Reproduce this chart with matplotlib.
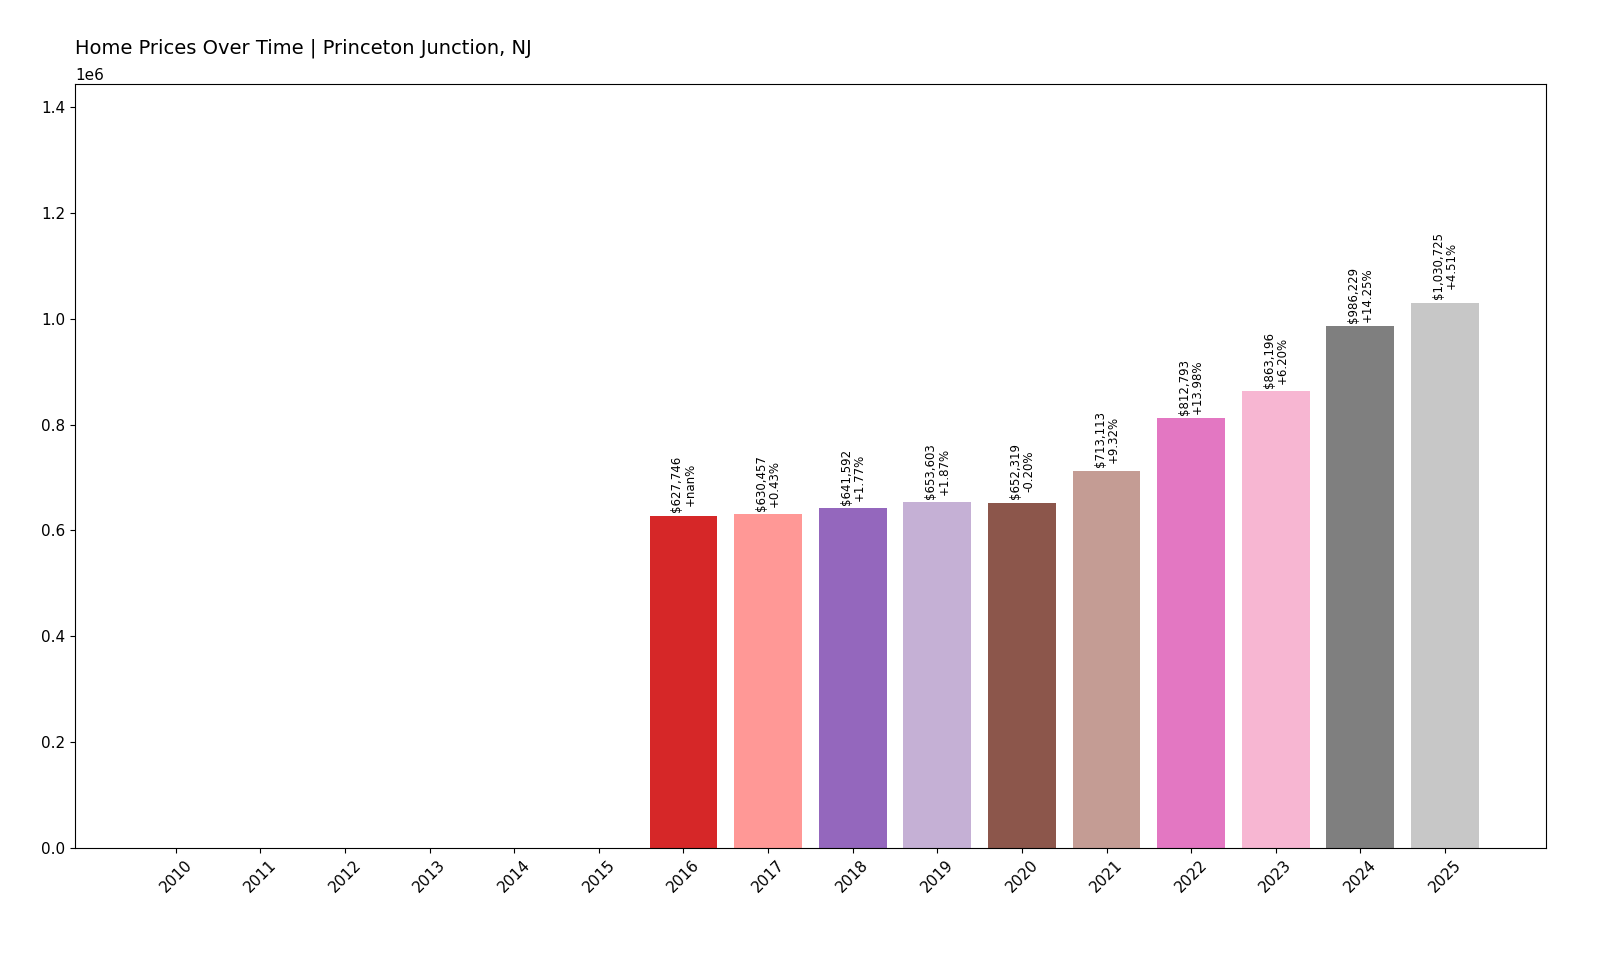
import numpy as np
import matplotlib
matplotlib.use("Agg")
import matplotlib.pyplot as plt

# Datos
years = [2010, 2011, 2012, 2013, 2014, 2015, 2016, 2017, 2018, 2019,
         2020, 2021, 2022, 2023, 2024, 2025]
prices = [0, 0, 0, 0, 0, 0,
          627746, 630457, 641592, 653603, 652319, 713113,
          812793, 863196, 986229, 1030725]
changes = [np.nan, np.nan, np.nan, np.nan, np.nan, np.nan,
           np.nan, 0.43, 1.77, 1.87, -0.20, 9.32,
           13.98, 6.20, 14.25, 4.51]

colors = [plt.cm.tab20(i) for i in range(len(years))]

fig, ax = plt.subplots(figsize=(16, 9.6), dpi=100)
x = np.arange(len(years))
ax.bar(x, prices, color=colors)

for xi, p, c in zip(x, prices, changes):
    if p <= 0:
        continue
    pct = "+nan%" if np.isnan(c) else f"{c:+.2f}%"
    ax.text(xi, p + 6000, f"${p:,.0f}\n{pct}", rotation=90,
            ha="center", va="bottom", fontsize=8.5, linespacing=1.0)

ax.set_xticks(x)
ax.set_xticklabels(years, rotation=45, fontsize=11)
ax.tick_params(axis="y", labelsize=11)
ax.set_ylim(0, max(prices) * 1.4)
ax.yaxis.get_offset_text().set_fontsize(11)
ax.set_title("Home Prices Over Time | Princeton Junction, NJ", loc="left",
             fontsize=14, pad=22)

plt.subplots_adjust(left=0.047, right=0.966, top=0.912, bottom=0.117)
plt.savefig("out.png", dpi=100)
